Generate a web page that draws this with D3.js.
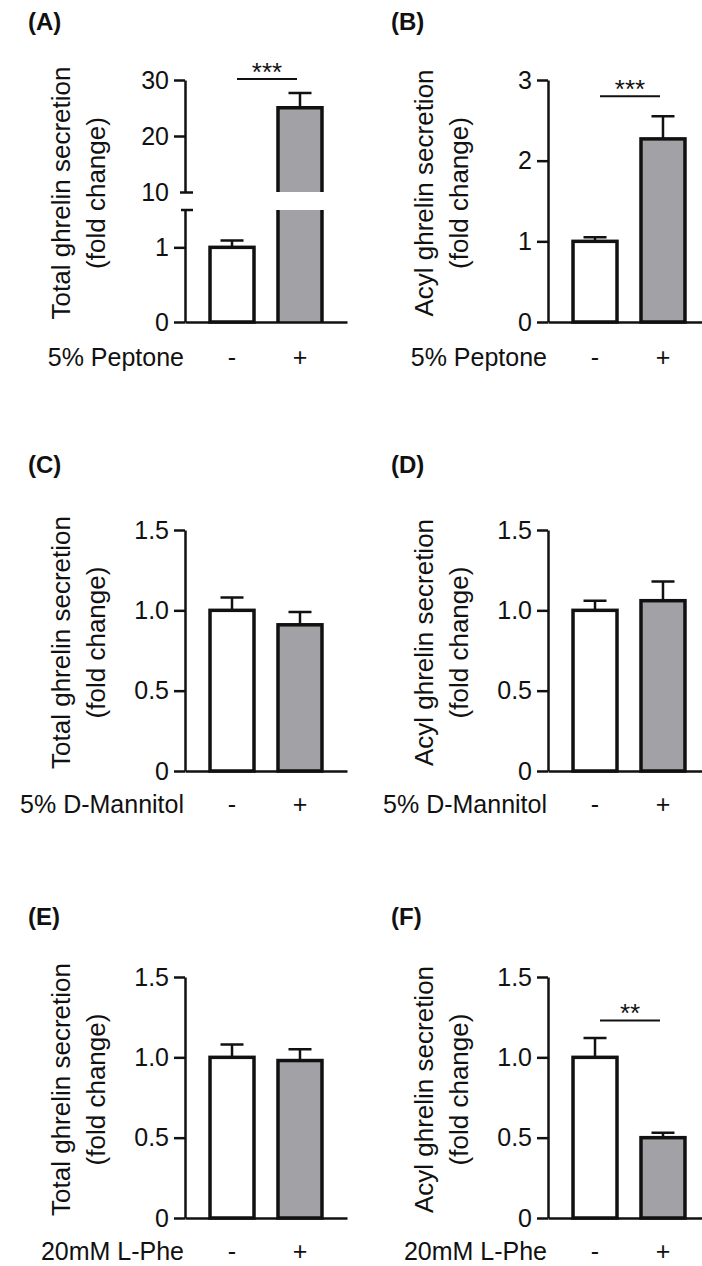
<!DOCTYPE html>
<html><head><meta charset="utf-8">
<script src="https://cdn.jsdelivr.net/npm/d3@7"></script>
<style>
body{margin:0;background:#fff}
svg{display:block}
text{font-family:"Liberation Sans",Arial,Helvetica,sans-serif;fill:#111}
</style>
</head><body>
<svg id="chart" width="702" height="1266"></svg>
<script>
// ---------- data ----------
const groups = ["-", "+"];
const panelLetters = ["(A)", "(B)", "(C)", "(D)", "(E)", "(F)"];
const treatments = ["5% Peptone", "5% Peptone", "5% D-Mannitol", "5% D-Mannitol", "20mM L-Phe", "20mM L-Phe"];
const totalTitle = ["Total ghrelin secretion", "(fold change)"];
const acylTitle = ["Acyl ghrelin secretion", "(fold change)"];

const meanA = [1.0, 25.05], semA = [0.09, 2.65];   // total, peptone
const meanB = [1.0, 2.27],  semB = [0.05, 0.28];   // acyl, peptone
const meanC = [1.0, 0.91],  semC = [0.08, 0.08];   // total, mannitol
const meanD = [1.0, 1.06],  semD = [0.06, 0.12];   // acyl, mannitol
const meanE = [1.0, 0.98],  semE = [0.08, 0.07];   // total, L-Phe
const meanF = [1.0, 0.50],  semF = [0.12, 0.03];   // acyl, L-Phe

const ticksALow = [0, 1], ticksAHigh = [10, 20, 30];
const domainALow = [0, 1.5], domainAHigh = [10, 30];
const ticksB = [0, 1, 2, 3];
const ticks15 = [0, 0.5, 1.0, 1.5];

const sigLabels = ["***", "***", null, null, null, "**"];
const sigLevels = [30.2, 2.8, null, null, null, 1.23];

// ---------- layout ----------
const svg = d3.select("#chart");
const colX = [185, 548];
const rowBase = [322, 771, 1218];
const rowTop = [80, 530, 977];
const letterY = [30, 473, 925];
const labelY = [366, 813, 1260];
const xLen = 162;
const FILL = ["#ffffff", "#a2a2a6"];
const INK = "#111";
const fmtInt = d => String(d);
const fmtDec = d => d === 0 ? "0" : d.toFixed(1);

const panels = [
  {mean: meanA, sem: semA, title: totalTitle, broken: true},
  {mean: meanB, sem: semB, title: acylTitle, domain: [0, 3], ticks: ticksB, fmt: fmtInt},
  {mean: meanC, sem: semC, title: totalTitle, domain: [0, 1.5], ticks: ticks15, fmt: fmtDec},
  {mean: meanD, sem: semD, title: acylTitle, domain: [0, 1.5], ticks: ticks15, fmt: fmtDec},
  {mean: meanE, sem: semE, title: totalTitle, domain: [0, 1.5], ticks: ticks15, fmt: fmtDec},
  {mean: meanF, sem: semF, title: acylTitle, domain: [0, 1.5], ticks: ticks15, fmt: fmtDec}
];

function styleAxis(g) {
  g.attr("font-size", 25).attr("font-family", null);
  g.selectAll("path.domain").attr("stroke", INK).attr("stroke-width", 2.5);
  g.selectAll(".tick line").attr("stroke", INK).attr("stroke-width", 2.5);
  g.selectAll(".tick text").attr("fill", INK);
}

panels.forEach((p, i) => {
  const col = i % 2, row = Math.floor(i / 2);
  const ax = colX[col], y0 = rowBase[row], yT = rowTop[row];
  const g = svg.append("g").attr("transform", `translate(${ax},0)`);

  const xs = d3.scaleBand().domain(groups).range([0, xLen]).paddingInner(0.353).paddingOuter(0.368);
  const bw = xs.bandwidth();
  const cx = k => xs(groups[k]) + bw / 2;

  // panel letter
  svg.append("text").attr("x", ax - 157).attr("y", letterY[row])
    .attr("font-size", 24).attr("font-weight", "bold").text(panelLetters[i]);

  // y title
  const midY = (y0 + yT) / 2 - 8;
  p.title.forEach((t, j) => {
    g.append("text")
      .attr("transform", `translate(${j === 0 ? -115 : -80},${midY}) rotate(-90)`)
      .attr("text-anchor", "middle").attr("font-size", 26).text(t);
  });

  let yOf;
  if (p.broken) {
    const yLow = d3.scaleLinear().domain(domainALow).range([y0, 210]);
    const yHigh = d3.scaleLinear().domain(domainAHigh).range([192, yT]);
    const aL = g.append("g").call(d3.axisLeft(yLow).tickValues(ticksALow).tickSize(11).tickSizeOuter(0).tickPadding(5).tickFormat(fmtInt));
    const aH = g.append("g").call(d3.axisLeft(yHigh).tickValues(ticksAHigh).tickSize(11).tickSizeOuter(0).tickPadding(5).tickFormat(fmtInt));
    styleAxis(aL); styleAxis(aH);
    aH.selectAll(".tick line").filter(d => d === domainAHigh[0]).attr("x2", -5).attr("x1", 8);
    g.append("line").attr("x1", -4).attr("x2", 8)
      .attr("y1", yLow(domainALow[1])).attr("y2", yLow(domainALow[1]))
      .attr("stroke", INK).attr("stroke-width", 2.5);
    p.mean.forEach((m, k) => {
      const x = xs(groups[k]);
      if (m <= domainALow[1]) {
        const e = yLow(m + p.sem[k]);
        g.append("path").attr("d", `M${cx(k)},${yLow(m)}V${e}M${cx(k) - 11.5},${e}H${cx(k) + 11.5}`)
          .attr("stroke", INK).attr("stroke-width", 2.5).attr("fill", "none");
        g.append("rect").attr("x", x).attr("y", yLow(m)).attr("width", bw).attr("height", y0 - yLow(m))
          .attr("fill", FILL[k]).attr("stroke", INK).attr("stroke-width", 3.5);
      } else {
        const yb = yLow(domainALow[1]);
        g.append("rect").attr("x", x).attr("y", yb).attr("width", bw).attr("height", y0 - yb).attr("fill", FILL[k]);
        g.append("path").attr("d", `M${x},${y0}V${yb}M${x + bw},${yb}V${y0}`)
          .attr("stroke", INK).attr("stroke-width", 3.5).attr("fill", "none");
        const ht = yHigh(m), hb = yHigh(domainAHigh[0]);
        g.append("rect").attr("x", x).attr("y", ht).attr("width", bw).attr("height", hb - ht).attr("fill", FILL[k]);
        const e = yHigh(m + p.sem[k]);
        g.append("path").attr("d", `M${cx(k)},${ht}V${e}M${cx(k) - 11.5},${e}H${cx(k) + 11.5}`)
          .attr("stroke", INK).attr("stroke-width", 2.5).attr("fill", "none");
        g.append("path").attr("d", `M${x},${hb}V${ht}H${x + bw}V${hb}`)
          .attr("stroke", INK).attr("stroke-width", 3.5).attr("fill", "none");
      }
    });
    yOf = v => yHigh(v);
  } else {
    const y = d3.scaleLinear().domain(p.domain).range([y0, yT]);
    const a = g.append("g").call(d3.axisLeft(y).tickValues(p.ticks).tickSize(11).tickSizeOuter(0).tickPadding(5).tickFormat(p.fmt));
    styleAxis(a);
    p.mean.forEach((m, k) => {
      const e = y(m + p.sem[k]);
      g.append("path").attr("d", `M${cx(k)},${y(m)}V${e}M${cx(k) - 11.5},${e}H${cx(k) + 11.5}`)
        .attr("stroke", INK).attr("stroke-width", 2.5).attr("fill", "none");
      g.append("rect").attr("x", xs(groups[k])).attr("y", y(m)).attr("width", bw).attr("height", y0 - y(m))
        .attr("fill", FILL[k]).attr("stroke", INK).attr("stroke-width", 3.5);
    });
    yOf = v => y(v);
  }

  // x axis (line + group labels)
  const pad = labelY[row] - y0 - 0.71 * 25;
  const xa = g.append("g").attr("transform", `translate(0,${y0})`)
    .call(d3.axisBottom(xs).tickSize(0).tickSizeOuter(0).tickPadding(pad));
  xa.attr("font-size", 25).attr("font-family", null);
  xa.selectAll("path.domain").attr("stroke", INK).attr("stroke-width", 2.5);
  xa.selectAll("text").attr("fill", INK);

  // treatment label
  g.append("text").attr("x", -1).attr("y", labelY[row]).attr("text-anchor", "end")
    .attr("font-size", 25).text(treatments[i]);

  // significance
  if (sigLabels[i]) {
    const ly = yOf(sigLevels[i]);
    g.append("line").attr("x1", cx(0) + 5).attr("x2", cx(1) - 3).attr("y1", ly).attr("y2", ly)
      .attr("stroke", INK).attr("stroke-width", 2);
    g.append("text").attr("x", (cx(0) + cx(1)) / 2 + 1).attr("y", ly + 2)
      .attr("text-anchor", "middle").attr("font-size", 26).text(sigLabels[i]);
  }
});
</script>
</body></html>
